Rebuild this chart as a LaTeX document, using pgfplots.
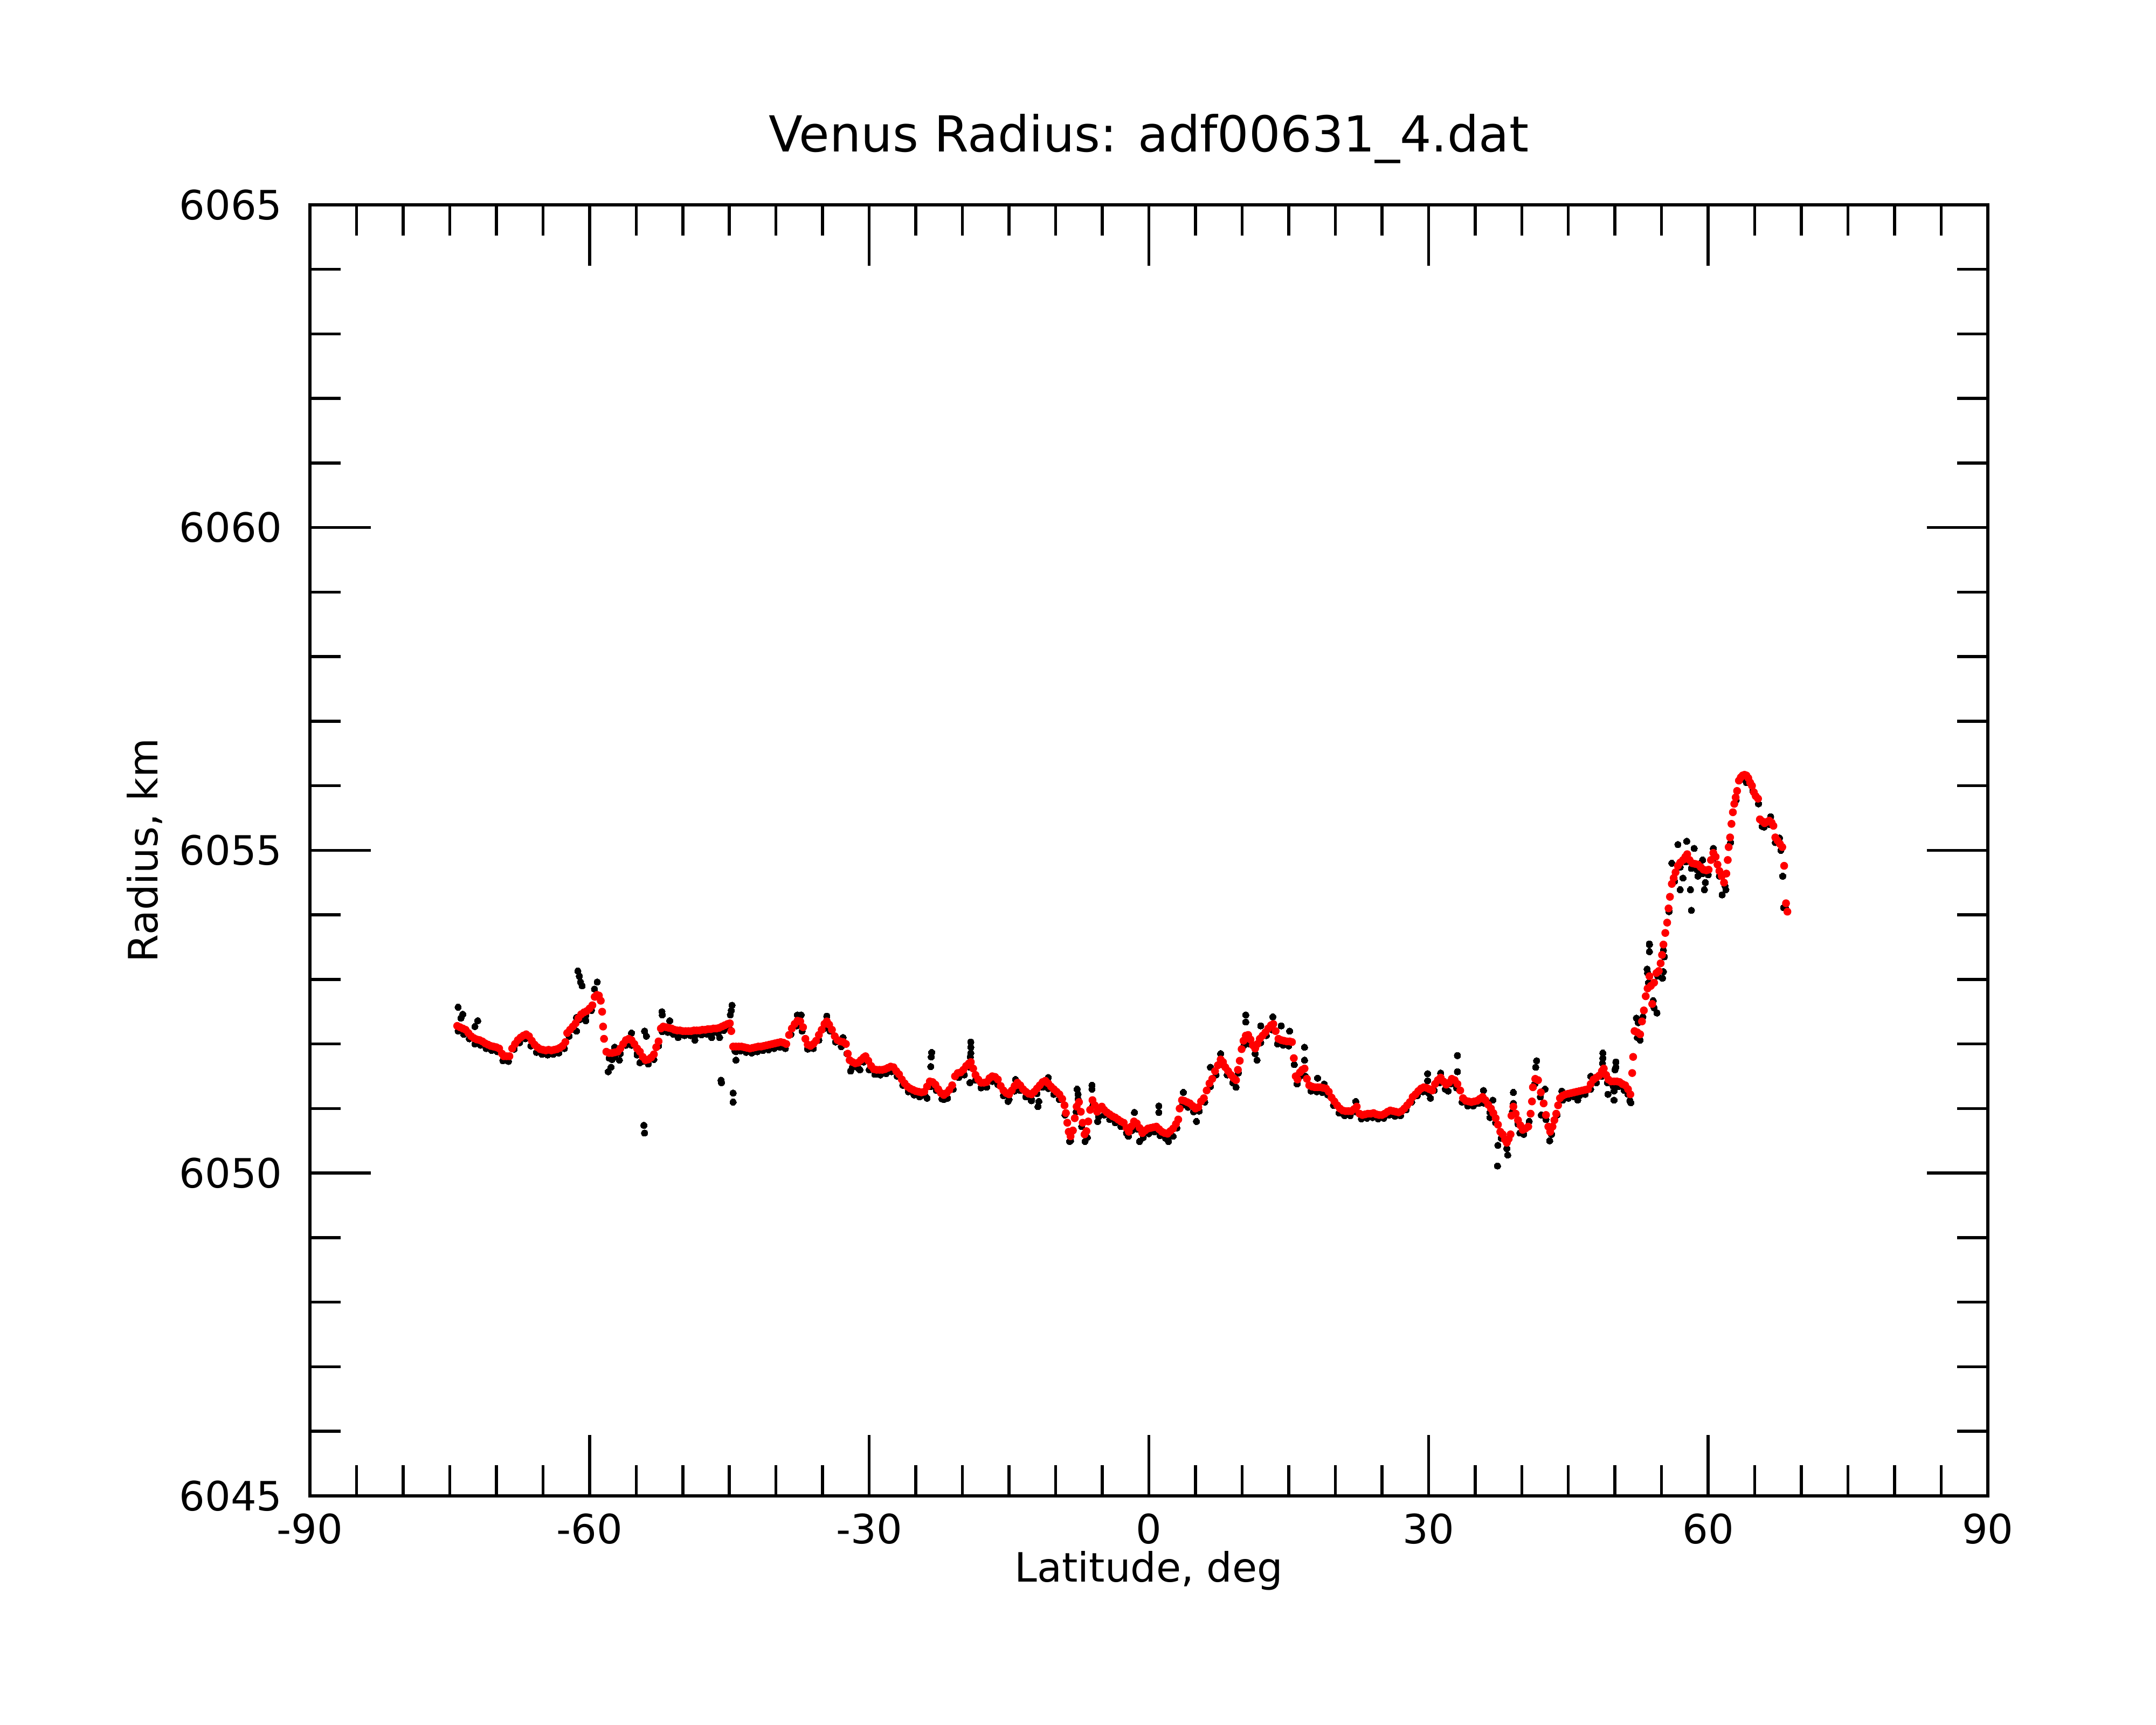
\documentclass[border=0pt]{standalone}
\usepackage{pgfplots}
\pgfplotsset{compat=1.18}
\usepackage{fontspec}
\setmainfont{DejaVu Sans}
\pgfplotstableread{
x y
-74.1 6052.20
-73.5 6052.15
-72.9 6052.08
-72.3 6052.0
-71.7 6051.98
-71.1 6051.93
-70.5 6051.9
-69.9 6051.88
-69.3 6051.74
-68.7 6051.73
-68.1 6051.92
-67.5 6052.02
-66.9 6052.08
-66.3 6051.97
-65.7 6051.87
-65.1 6051.84
-64.5 6051.83
-63.9 6051.84
-63.3 6051.86
-62.7 6051.93
-62.2 6052.12
-61.6 6052.22
-61.0 6052.38
-60.4 6052.44
-59.8 6052.52
-57.9 6051.78
-57.3 6051.8
-56.7 6051.85
-56.1 6051.98
-55.5 6051.98
-54.9 6051.85
-54.3 6051.73
-53.7 6051.69
-53.1 6051.76
-52.2 6052.19
-51.6 6052.18
-51.0 6052.15
-50.4 6052.14
-49.8 6052.13
-49.2 6052.13
-48.6 6052.14
-48.0 6052.14
-47.4 6052.15
-46.8 6052.17
-46.2 6052.17
-45.6 6052.21
-45.0 6052.24
-44.4 6051.89
-43.8 6051.89
-43.2 6051.87
-42.6 6051.86
-42.0 6051.88
-41.4 6051.9
-40.8 6051.91
-40.2 6051.93
-39.6 6051.95
-39.0 6051.93
-38.4 6052.15
-37.8 6052.28
-37.2 6052.2
-36.6 6051.92
-36.0 6051.93
-35.4 6052.06
-34.8 6052.24
-34.2 6052.2
-33.6 6052.03
-33.0 6051.96
-32.4 6051.85
-31.8 6051.64
-31.2 6051.63
-30.6 6051.72
-30.0 6051.6
-29.4 6051.53
-28.8 6051.52
-28.2 6051.54
-27.6 6051.57
-27.0 6051.5
-26.4 6051.36
-25.8 6051.26
-25.2 6051.21
-24.6 6051.18
-24.0 6051.2
-23.4 6051.34
-22.8 6051.28
-22.2 6051.15
-21.6 6051.16
-21.0 6051.3
-20.4 6051.48
-19.8 6051.52
-19.2 6051.64
-18.6 6051.44
-18.0 6051.32
-17.4 6051.33
-16.8 6051.42
-16.2 6051.37
-15.6 6051.2
-15.0 6051.14
-14.4 6051.27
-13.8 6051.28
-13.2 6051.18
-12.6 6051.14
-12.0 6051.23
-11.4 6051.33
-10.8 6051.31
-10.2 6051.22
-9.6 6051.14
-9.0 6050.9
-8.4 6050.5
-7.8 6050.95
-7.2 6050.72
-6.6 6050.55
-6.0 6051.05
-5.4 6050.87
-4.8 6050.9
-4.2 6050.83
-3.6 6050.78
-3.0 6050.72
-2.4 6050.62
-1.8 6050.66
-1.2 6050.68
-0.6 6050.55
0.0 6050.61
0.6 6050.64
1.2 6050.58
1.8 6050.54
2.4 6050.58
3.0 6050.7
3.6 6051.05
4.2 6051.02
4.8 6050.95
5.4 6050.96
6.0 6051.1
6.6 6051.34
7.2 6051.52
7.8 6051.68
8.4 6051.52
9.0 6051.4
9.6 6051.55
10.2 6051.98
10.8 6052.0
11.4 6051.85
12.0 6052.02
12.6 6052.13
13.2 6052.22
13.8 6052.0
14.4 6051.98
15.0 6051.97
15.6 6051.68
16.2 6051.5
16.8 6051.5
17.4 6051.27
18.0 6051.26
18.6 6051.25
19.2 6051.21
19.8 6051.05
20.4 6050.93
21.0 6050.89
21.6 6050.89
22.2 6050.95
22.8 6050.84
23.4 6050.85
24.0 6050.86
24.6 6050.84
25.2 6050.85
25.8 6050.9
26.4 6050.88
27.0 6050.89
27.6 6050.98
28.2 6051.1
28.8 6051.2
29.4 6051.26
30.0 6051.24
30.6 6051.28
31.2 6051.4
31.8 6051.3
32.4 6051.38
33.0 6051.32
33.6 6051.1
34.2 6051.04
34.8 6051.04
35.4 6051.08
36.0 6051.08
36.6 6050.94
37.2 6050.78
37.8 6050.54
38.4 6050.38
39.0 6050.95
39.6 6050.76
40.2 6050.6
40.8 6050.8
41.4 6051.38
42.0 6051.18
42.6 6050.83
43.2 6050.6
43.8 6050.9
44.4 6051.13
45.0 6051.16
45.6 6051.18
46.2 6051.2
46.8 6051.22
47.4 6051.3
48.0 6051.4
48.6 6051.5
49.2 6051.4
49.8 6051.35
50.4 6051.34
51.0 6051.28
51.6 6051.12
52.4 6052.1
53.0 6052.42
53.6 6052.95
54.6 6053.05
55.2 6053.45
55.8 6054.05
56.4 6054.52
57.0 6054.74
57.6 6054.82
58.2 6054.72
58.8 6054.7
59.4 6054.64
60.0 6054.62
60.6 6054.88
61.2 6054.6
61.8 6054.45
62.4 6055.12
63.0 6055.78
63.6 6056.1
64.2 6056.1
64.8 6055.92
65.4 6055.72
66.0 6055.36
66.6 6055.4
67.2 6055.12
67.8 6055.0
68.3 6054.1
-74.1 6052.57
-73.8 6052.40
-73.6 6052.46
-72.0 6052.36
-72.3 6052.27
-61.26 6053.13
-61.1 6053.05
-60.97 6052.96
-60.8 6052.9
-59.18 6052.96
-59.47 6052.85
-61.4 6052.41
-60.4 6052.36
-61.4 6052.2
-58.0 6051.57
-57.7 6051.64
-57.6 6051.76
-57.3 6051.95
-56.8 6051.75
-55.5 6052.17
-55.8 6052.05
-54.9 6051.83
-54.6 6051.71
-54.17 6050.74
-54.1 6050.62
-54.1 6052.2
-53.9 6052.12
-52.6 6051.97
-52.24 6052.5
-52.2 6052.45
-51.4 6052.36
-51.0 6052.17
-50.5 6052.1
-48.7 6052.06
-46.9 6052.1
-46.05 6052.1
-44.72 6052.6
-44.8 6052.52
-44.9 6052.45
-45.9 6051.44
-45.85 6051.4
-44.6 6051.24
-44.6 6051.1
-44.3 6051.88
-44.3 6051.75
-37.7 6052.45
-37.3 6052.45
-34.55 6052.43
-32.8 6052.1
-32.0 6051.58
-31.0 6051.6
-29.0 6051.53
-23.3 6051.87
-23.35 6051.80
-23.4 6051.65
-23.8 6051.16
-22.0 6051.14
-19.1 6052.03
-19.1 6051.95
-19.1 6051.86
-19.15 6051.80
-19.2 6051.4
-15.1 6051.11
-12.6 6051.12
-11.8 6051.11
-11.9 6051.03
-14.3 6051.45
-10.8 6051.48
-7.7 6051.3
-7.6 6051.22
-7.6 6051.15
-6.1 6051.36
-6.1 6051.30
-8.5 6050.49
-6.85 6050.49
-5.5 6050.8
-2.2 6050.57
-1.0 6050.49
1.07 6051.04
1.07 6050.94
2.1 6050.49
2.6 6050.57
-1.55 6050.94
3.7 6051.25
5.1 6050.8
6.6 6051.64
7.7 6051.85
9.35 6051.33
10.4 6052.45
10.4 6052.34
12.0 6052.28
13.3 6052.42
14.2 6052.28
15.1 6052.2
11.6 6051.75
15.9 6051.38
16.7 6051.95
16.7 6051.75
18.1 6051.47
18.8 6051.38
22.2 6051.11
29.9 6051.54
29.9 6051.43
30.2 6051.16
31.3 6051.55
33.1 6051.82
33.1 6051.57
32.1 6051.27
35.9 6051.28
36.9 6051.13
36.6 6050.86
37.44 6050.43
37.4 6050.11
38.5 6050.28
39.1 6051.25
39.1 6051.08
39.8 6050.62
41.6 6051.74
41.5 6051.64
42.5 6051.30
42.1 6050.9
43.0 6050.5
44.3 6051.27
46.0 6051.13
47.4 6051.5
48.7 6051.86
48.7 6051.78
50.1 6051.72
50.1 6051.64
49.9 6051.27
51.4 6051.22
52.7 6052.06
52.3 6052.4
54.1 6052.67
54.2 6052.56
53.45 6053.16
55.2 6053.12
53.7 6053.55
56.75 6055.09
57.7 6055.14
58.5 6055.03
56.1 6054.8
57.3 6054.57
57.0 6054.39
58.1 6054.39
58.2 6054.07
59.6 6054.39
59.7 6054.5
58.9 6054.6
60.55 6055.03
61.5 6054.31
61.9 6054.39
59.4 6054.85
53.7 6053.54
53.7 6053.43
55.1 6053.02
55.3 6053.35
54.5 6052.48
53.5 6053.1
52.7 6052.06
52.5 6052.33
51.7 6051.09
49.9 6051.13
49.25 6051.22
48.66 6051.7
50.0 6051.6
64.1 6056.05
66.7 6055.52
65.8 6055.37
67.65 6055.19
68.0 6054.6
68.1 6054.11
}\blackdata
\pgfplotstableread{
x y
-74.2 6052.28
-73.9 6052.26
-73.6 6052.24
-73.3 6052.22
-73.0 6052.17
-72.7 6052.12
-72.4 6052.09
-72.1 6052.07
-71.8 6052.06
-71.5 6052.04
-71.2 6052.01
-70.9 6051.99
-70.6 6051.97
-70.3 6051.96
-70.0 6051.95
-69.7 6051.93
-69.4 6051.85
-69.2 6051.81
-68.9 6051.81
-68.6 6051.81
-68.3 6051.93
-68.0 6052.0
-67.7 6052.06
-67.4 6052.1
-67.1 6052.13
-66.8 6052.15
-66.5 6052.12
-66.2 6052.05
-65.9 6051.99
-65.6 6051.95
-65.3 6051.92
-65.0 6051.91
-64.7 6051.90
-64.4 6051.91
-64.1 6051.90
-63.8 6051.91
-63.5 6051.92
-63.2 6051.94
-62.9 6051.97
-62.6 6052.03
-62.4 6052.17
-62.1 6052.22
-61.8 6052.27
-61.5 6052.32
-61.2 6052.40
-60.9 6052.46
-60.6 6052.49
-60.3 6052.51
-60.0 6052.55
-59.7 6052.6
-59.45 6052.73
-59.2 6052.76
-59.0 6052.75
-58.8 6052.67
-58.65 6052.5
-58.55 6052.27
-58.45 6052.08
-58.2 6051.88
-57.9 6051.86
-57.6 6051.86
-57.3 6051.87
-57.0 6051.88
-56.7 6051.93
-56.4 6052.0
-56.1 6052.06
-55.8 6052.08
-55.5 6052.06
-55.2 6052.0
-54.9 6051.93
-54.6 6051.88
-54.3 6051.8
-54.0 6051.75
-53.7 6051.76
-53.4 6051.79
-53.1 6051.84
-52.85 6051.95
-52.6 6052.04
-52.35 6052.24
-52.1 6052.27
-51.8 6052.26
-51.5 6052.25
-51.2 6052.24
-50.9 6052.22
-50.6 6052.21
-50.3 6052.21
-50.0 6052.20
-49.7 6052.2
-49.4 6052.2
-49.1 6052.2
-48.8 6052.21
-48.5 6052.21
-48.2 6052.21
-47.9 6052.22
-47.6 6052.22
-47.3 6052.23
-47.0 6052.23
-46.7 6052.24
-46.4 6052.24
-46.1 6052.25
-45.8 6052.27
-45.5 6052.29
-45.2 6052.31
-44.95 6052.32
-44.8 6052.2
-44.6 6051.96
-44.3 6051.96
-44.0 6051.96
-43.7 6051.96
-43.4 6051.95
-43.1 6051.94
-42.8 6051.93
-42.5 6051.94
-42.2 6051.95
-41.9 6051.96
-41.6 6051.96
-41.3 6051.97
-41.0 6051.98
-40.7 6051.99
-40.4 6052.0
-40.1 6052.01
-39.8 6052.02
-39.5 6052.03
-39.2 6052.02
-38.9 6052.0
-38.6 6052.14
-38.3 6052.24
-38.0 6052.31
-37.7 6052.36
-37.4 6052.35
-37.1 6052.26
-36.85 6052.08
-36.6 6051.99
-36.3 6051.97
-36.0 6052.0
-35.7 6052.05
-35.4 6052.14
-35.1 6052.22
-34.8 6052.31
-34.55 6052.35
-34.3 6052.3
-34.0 6052.22
-33.7 6052.12
-33.4 6052.06
-33.1 6052.04
-32.8 6052.03
-32.5 6052.0
-32.3 6051.85
-32.1 6051.75
-31.8 6051.72
-31.5 6051.70
-31.2 6051.71
-30.9 6051.75
-30.6 6051.79
-30.4 6051.81
-30.1 6051.74
-29.8 6051.66
-29.5 6051.61
-29.2 6051.60
-28.9 6051.60
-28.6 6051.6
-28.3 6051.61
-28.0 6051.63
-27.7 6051.65
-27.4 6051.64
-27.1 6051.58
-26.8 6051.53
-26.5 6051.45
-26.2 6051.39
-25.9 6051.34
-25.6 6051.31
-25.3 6051.29
-25.0 6051.27
-24.7 6051.26
-24.4 6051.25
-24.1 6051.26
-23.8 6051.34
-23.5 6051.42
-23.2 6051.41
-22.9 6051.37
-22.6 6051.30
-22.3 6051.24
-22.0 6051.21
-21.7 6051.24
-21.4 6051.29
-21.1 6051.36
-20.8 6051.5
-20.5 6051.55
-20.2 6051.56
-19.9 6051.6
-19.6 6051.66
-19.3 6051.7
-19.1 6051.72
-18.85 6051.62
-18.6 6051.52
-18.3 6051.45
-18.0 6051.40
-17.7 6051.40
-17.4 6051.41
-17.1 6051.47
-16.8 6051.5
-16.5 6051.49
-16.2 6051.45
-15.9 6051.35
-15.6 6051.28
-15.3 6051.24
-15.0 6051.22
-14.7 6051.28
-14.4 6051.35
-14.1 6051.40
-13.8 6051.36
-13.5 6051.30
-13.2 6051.26
-12.9 6051.23
-12.6 6051.22
-12.3 6051.26
-12.0 6051.31
-11.7 6051.36
-11.4 6051.41
-11.1 6051.43
-10.8 6051.39
-10.5 6051.34
-10.2 6051.3
-9.9 6051.26
-9.6 6051.22
-9.3 6051.15
-9.05 6051.05
-8.9 6050.93
-8.75 6050.78
-8.6 6050.64
-8.4 6050.57
-8.15 6050.66
-7.95 6050.85
-7.75 6051.03
-7.5 6051.1
-7.3 6050.95
-7.1 6050.78
-6.9 6050.60
-6.7 6050.65
-6.5 6050.8
-6.3 6050.98
-6.05 6051.13
-5.8 6051.05
-5.55 6050.95
-5.3 6051.0
-5.05 6051.03
-4.8 6050.98
-4.5 6050.94
-4.2 6050.91
-3.9 6050.88
-3.6 6050.86
-3.3 6050.83
-3.0 6050.8
-2.7 6050.78
-2.4 6050.7
-2.15 6050.64
-1.9 6050.72
-1.6 6050.8
-1.3 6050.77
-1.0 6050.7
-0.7 6050.62
-0.4 6050.66
-0.1 6050.69
0.2 6050.7
0.5 6050.71
0.8 6050.72
1.1 6050.68
1.4 6050.64
1.7 6050.62
2.0 6050.61
2.3 6050.65
2.6 6050.69
2.9 6050.76
3.15 6050.83
3.3 6051.0
3.55 6051.13
3.8 6051.12
4.1 6051.1
4.4 6051.08
4.7 6051.04
5.0 6051.0
5.3 6051.02
5.6 6051.11
5.9 6051.16
6.2 6051.28
6.5 6051.39
6.8 6051.46
7.1 6051.58
7.4 6051.67
7.7 6051.76
7.95 6051.72
8.2 6051.64
8.5 6051.58
8.8 6051.52
9.1 6051.47
9.35 6051.44
9.55 6051.6
9.75 6051.74
9.95 6051.92
10.15 6052.05
10.4 6052.13
10.65 6052.14
10.9 6052.07
11.15 6051.98
11.4 6051.93
11.65 6052.0
11.9 6052.08
12.2 6052.13
12.5 6052.18
12.8 6052.24
13.1 6052.29
13.35 6052.31
13.6 6052.2
13.9 6052.08
14.2 6052.06
14.5 6052.05
14.8 6052.04
15.1 6052.04
15.35 6052.03
15.55 6051.78
15.75 6051.5
15.95 6051.45
16.2 6051.56
16.45 6051.6
16.7 6051.62
16.95 6051.46
17.2 6051.36
17.5 6051.34
17.8 6051.33
18.1 6051.33
18.4 6051.33
18.7 6051.32
19.0 6051.31
19.3 6051.26
19.6 6051.17
19.9 6051.11
20.2 6051.05
20.5 6051.0
20.8 6050.97
21.1 6050.96
21.4 6050.96
21.7 6050.96
22.0 6050.99
22.3 6051.03
22.6 6050.92
22.9 6050.9
23.2 6050.91
23.5 6050.92
23.8 6050.92
24.1 6050.93
24.4 6050.91
24.7 6050.9
25.0 6050.9
25.3 6050.92
25.6 6050.95
25.9 6050.97
26.2 6050.96
26.5 6050.95
26.8 6050.94
27.1 6050.96
27.4 6051.0
27.7 6051.05
28.0 6051.1
28.3 6051.18
28.6 6051.22
28.9 6051.27
29.2 6051.31
29.5 6051.33
29.8 6051.32
30.1 6051.3
30.4 6051.28
30.7 6051.38
31.0 6051.44
31.3 6051.48
31.6 6051.42
31.9 6051.37
32.2 6051.4
32.5 6051.46
32.8 6051.44
33.1 6051.38
33.4 6051.28
33.7 6051.16
34.0 6051.12
34.3 6051.11
34.6 6051.1
34.9 6051.11
35.2 6051.12
35.5 6051.15
35.8 6051.18
36.1 6051.13
36.4 6051.06
36.7 6051.0
36.95 6050.93
37.2 6050.85
37.45 6050.75
37.7 6050.64
37.95 6050.6
38.2 6050.52
38.4 6050.47
38.6 6050.53
38.8 6050.6
38.9 6050.89
39.1 6051.03
39.35 6050.92
39.6 6050.82
39.85 6050.74
40.1 6050.67
40.4 6050.69
40.7 6050.72
40.95 6050.92
41.1 6051.11
41.2 6051.33
41.45 6051.46
41.75 6051.44
42.05 6051.25
42.35 6051.08
42.6 6050.9
42.85 6050.72
43.05 6050.64
43.3 6050.72
43.5 6050.82
43.7 6050.92
43.9 6051.05
44.1 6051.16
44.4 6051.2
44.7 6051.22
45.0 6051.23
45.3 6051.24
45.6 6051.25
45.9 6051.26
46.2 6051.27
46.5 6051.28
46.8 6051.29
47.1 6051.3
47.4 6051.38
47.7 6051.45
48.0 6051.48
48.3 6051.51
48.6 6051.58
48.8 6051.62
49.05 6051.52
49.3 6051.45
49.6 6051.42
49.9 6051.42
50.2 6051.42
50.5 6051.41
50.8 6051.38
51.1 6051.36
51.4 6051.3
51.65 6051.22
51.85 6051.55
51.95 6051.8
52.1 6052.2
52.4 6052.18
52.7 6052.15
52.9 6052.35
53.1 6052.52
53.3 6052.74
53.5 6052.86
53.7 6053.05
53.85 6052.9
54.0 6052.62
54.2 6052.95
54.45 6053.1
54.7 6053.13
54.9 6053.25
55.05 6053.38
55.2 6053.54
55.4 6053.72
55.6 6053.88
55.75 6054.1
55.9 6054.28
56.1 6054.48
56.3 6054.57
56.5 6054.66
56.75 6054.76
57.0 6054.81
57.3 6054.85
57.55 6054.9
57.75 6054.94
58.0 6054.85
58.3 6054.8
58.6 6054.79
58.9 6054.78
59.2 6054.74
59.5 6054.70
59.8 6054.69
60.05 6054.70
60.3 6054.85
60.55 6054.96
60.8 6054.9
61.0 6054.78
61.2 6054.68
61.45 6054.6
61.7 6054.5
61.95 6054.64
62.1 6054.85
62.2 6055.05
62.35 6055.2
62.5 6055.41
62.65 6055.59
62.8 6055.72
62.95 6055.82
63.1 6055.92
63.3 6056.08
63.5 6056.13
63.7 6056.16
63.9 6056.17
64.1 6056.16
64.3 6056.12
64.5 6056.05
64.7 6056.0
64.9 6055.9
65.1 6055.84
65.35 6055.8
65.55 6055.48
65.8 6055.45
66.05 6055.42
66.3 6055.44
66.55 6055.46
66.8 6055.43
67.0 6055.38
67.2 6055.2
67.45 6055.15
67.7 6055.1
67.95 6055.05
68.15 6054.76
68.35 6054.18
68.5 6054.05
}\reddata
\begin{document}
\begin{tikzpicture}
\path[use as bounding box] (0,0) rectangle (400pt,320pt);
\begin{axis}[
  at={(57.5pt,42.5pt)}, anchor=south west,
  width=311.3pt, height=239.5pt, scale only axis,
  xmin=-90, xmax=90, ymin=6045, ymax=6065,
  xtick={-90,-60,-30,0,30,60,90},
  xticklabels={-90,-60,-30,0,30,60,90},
  minor xtick={-85,-80,-75,-70,-65,-55,-50,-45,-40,-35,-25,-20,-15,-10,-5,5,10,15,20,25,35,40,45,50,55,65,70,75,80,85},
  ytick={6045,6050,6055,6060,6065},
  yticklabels={6045,6050,6055,6060,6065},
  minor ytick={6046,6047,6048,6049,6051,6052,6053,6054,6056,6057,6058,6059,6061,6062,6063,6064},
  tick align=inside,
  major tick length=11.3pt, minor tick length=5.7pt,
  axis line style={line width=0.55pt},
  every tick/.style={black, line width=0.55pt},
  ticklabel style={font=\fontsize{7.5}{9}\selectfont},
  yticklabel style={xshift=-1.6pt},
  xticklabel style={yshift=0.2pt},
  xlabel={Latitude, deg},
  ylabel={Radius, km},
  title={Venus Radius: adf00631\_4.dat},
  every axis x label/.style={at={([yshift=-16pt]axis description cs:0.5,0)}, anchor=base, font=\fontsize{7.5}{9}\selectfont},
  every axis y label/.style={at={([xshift=-28.3pt]axis description cs:0,0.5)}, rotate=90, anchor=base, font=\fontsize{7.5}{9}\selectfont},
  every axis title/.style={at={([yshift=9.8pt]axis description cs:0.5,1)}, anchor=base, font=\fontsize{9.2}{11}\selectfont},
  clip=false,
]
\addplot[black, only marks, mark=*, mark size=0.6pt, mark options={draw=black, fill=black, line width=0pt}] table {\blackdata};
\addplot[red, only marks, mark=*, mark size=0.68pt, mark options={draw=red, fill=red, line width=0.1pt}] table {\reddata};
\end{axis}
\end{tikzpicture}
\end{document}
